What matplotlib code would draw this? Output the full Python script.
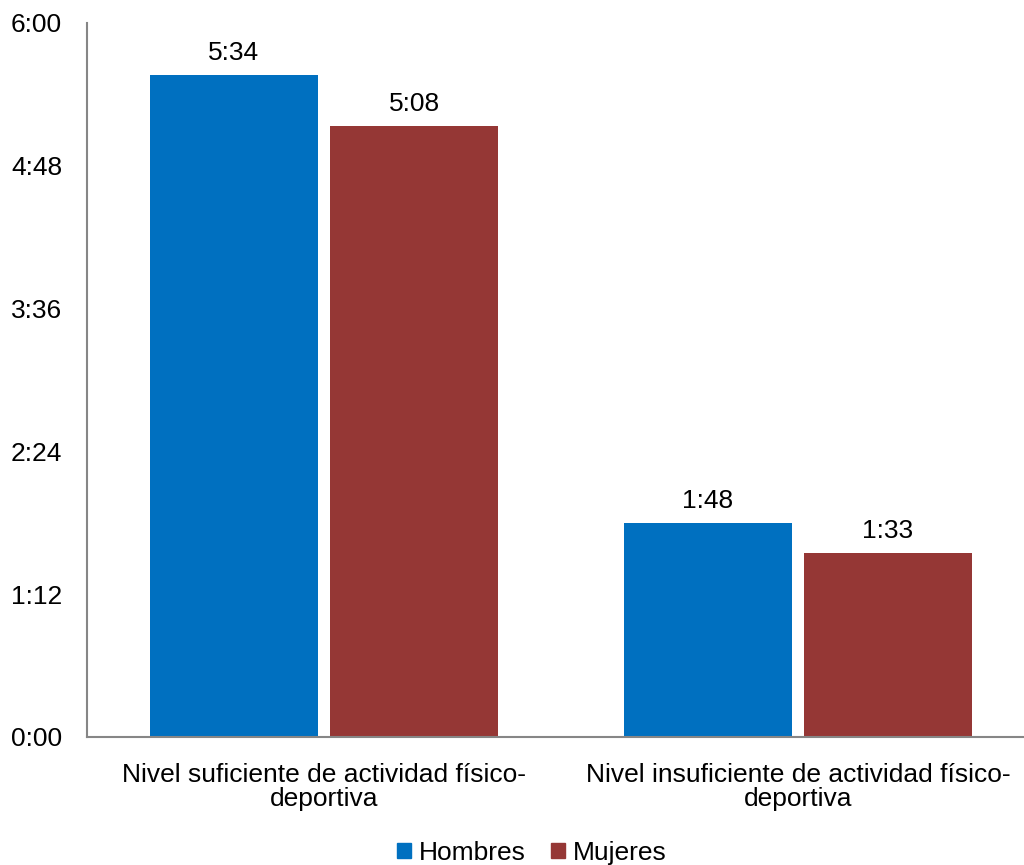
import matplotlib
matplotlib.use("Agg")
import matplotlib.pyplot as plt
from matplotlib.patches import Patch

plt.rcParams['font.family'] = ['Liberation Sans', 'DejaVu Sans']

categories = ["Nivel suficiente de actividad físico-\ndeportiva",
              "Nivel insuficiente de actividad físico-\ndeportiva"]
series_names = ["Hombres", "Mujeres"]
hombres_min = [334, 108]   # 5:34, 1:48
mujeres_min = [308, 93]    # 5:08, 1:33
ytick_labels = ["0:00", "1:12", "2:24", "3:36", "4:48", "6:00"]
colors = ["#0070C0", "#953735"]

FS = 19


def fmt(m):
    return f"{m // 60}:{m % 60:02d}"


fig = plt.figure(figsize=(10.24, 8.65), dpi=100)
ax = fig.add_axes([87 / 1024, 1 - 737 / 865, 948 / 1024, (737 - 23) / 865])

width = 0.356
offset = 0.19
xs = range(len(categories))
for vals, off, col in ((hombres_min, -offset, colors[0]), (mujeres_min, offset, colors[1])):
    pos = [x + off for x in xs]
    bars = ax.bar(pos, vals, width=width, color=col)
    for b, v in zip(bars, vals):
        ax.annotate(fmt(v), (b.get_x() + b.get_width() / 2, v), xytext=(0, 7),
                    textcoords="offset points", ha="center", va="bottom", fontsize=FS)

ax.set_xlim(-0.5, 1.5)
ax.set_ylim(0, 360)
ax.set_yticks([i * 72 for i in range(len(ytick_labels))])
ax.set_yticklabels(ytick_labels, fontsize=FS)
ax.set_xticks(list(xs))
ax.set_xticklabels(categories, fontsize=FS, linespacing=1.0)
ax.tick_params(axis="both", length=0)
ax.tick_params(axis="y", pad=18)
ax.tick_params(axis="x", pad=19)
for s in ("top", "right"):
    ax.spines[s].set_visible(False)
for s in ("left", "bottom"):
    ax.spines[s].set_color("#868686")
    ax.spines[s].set_linewidth(1.5)

handles = [Patch(color=c, label=n) for c, n in zip(colors, series_names)]
fig.legend(handles=handles, loc="center", bbox_to_anchor=(532 / 1024, 1 - 853 / 865), ncol=2,
           frameon=False, fontsize=FS, handlelength=0.53, handleheight=0.53,
           handletextpad=0.3, columnspacing=0.95, borderaxespad=0, borderpad=0)

fig.savefig("out.png", dpi=100)
